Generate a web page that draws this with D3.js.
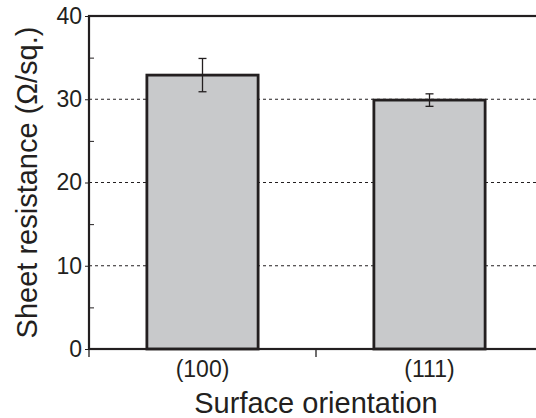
<!DOCTYPE html>
<html>
<head>
<meta charset="utf-8">
<script src="https://cdn.jsdelivr.net/npm/d3@7"></script>
<style>
  body { margin: 0; background: #fff; }
  svg { display: block; font-family: "Liberation Sans", Arial, Helvetica, sans-serif; }
</style>
</head>
<body>
<div id="chart"></div>
<script>
var categories = ["(100)", "(111)"]
var values = [32.9, 29.9]
var errors = [2.0, 0.75]
var majorTicks = [0, 10, 20, 30, 40]
var minorTicks = [5, 15, 25, 35]
var gridTicks = [10, 20, 30]

var ink = "#231f20"

var svg = d3.select("#chart").append("svg")
  .attr("width", 536)
  .attr("height", 418)

var margin = { top: 16, right: -7, bottom: 69, left: 89 },
  width = 536 - margin.left - margin.right,
  height = 418 - margin.top - margin.bottom

var g = svg.append("g")
  .attr("transform", "translate(" + margin.left + "," + margin.top + ")")

var x = d3.scaleBand().domain(categories).range([0, width]).padding(0)
var y = d3.scaleLinear().domain([0, 40]).range([height, 0])

// dashed grid
g.append("g").selectAll("line").data(gridTicks).enter().append("line")
  .attr("x1", 0).attr("x2", width)
  .attr("y1", function (d) { return y(d) })
  .attr("y2", function (d) { return y(d) })
  .attr("stroke", ink)
  .attr("stroke-width", 1)
  .attr("stroke-dasharray", "3,3")

// bars
var barW = x.bandwidth() * 0.49
g.append("g").selectAll("rect").data(values).enter().append("rect")
  .attr("x", function (d, i) { return x(categories[i]) + (x.bandwidth() - barW) / 2 })
  .attr("y", function (d) { return y(d) })
  .attr("width", barW)
  .attr("height", function (d) { return height - y(d) })
  .attr("fill", "#c8c9cb")
  .attr("stroke", ink)
  .attr("stroke-width", 2.8)

// error bars
var eb = g.append("g").attr("stroke", ink).attr("stroke-width", 1.3)
values.forEach(function (d, i) {
  var cx = x(categories[i]) + x.bandwidth() / 2
  eb.append("line").attr("x1", cx).attr("x2", cx)
    .attr("y1", y(d + errors[i])).attr("y2", y(d - errors[i]))
  eb.append("line").attr("x1", cx - 4).attr("x2", cx + 4)
    .attr("y1", y(d + errors[i])).attr("y2", y(d + errors[i]))
  eb.append("line").attr("x1", cx - 4).attr("x2", cx + 4)
    .attr("y1", y(d - errors[i])).attr("y2", y(d - errors[i]))
})

// y axis, major ticks with labels
var yAxis = d3.axisLeft(y).tickValues(majorTicks).tickSizeInner(4).tickSizeOuter(0).tickPadding(3)
var gy = g.append("g").call(yAxis)
gy.select(".domain").remove()
gy.selectAll(".tick line").attr("stroke", ink).attr("stroke-width", 1)
gy.selectAll(".tick text")
  .attr("fill", ink)
  .style("font-size", "23px")

// y axis minor ticks (inside)
var gyMinor = g.append("g").call(d3.axisRight(y).tickValues(minorTicks).tickSize(5).tickFormat(""))
gyMinor.select(".domain").remove()
gyMinor.selectAll(".tick line").attr("stroke", ink).attr("stroke-width", 1)

// x axis: ticks at band boundaries, labels at centers
var bounds = [0, x.bandwidth(), width]
g.append("g").selectAll("line").data(bounds).enter().append("line")
  .attr("x1", function (d) { return d }).attr("x2", function (d) { return d })
  .attr("y1", height).attr("y2", height + 8)
  .attr("stroke", ink).attr("stroke-width", 1.3)

var xAxis = d3.axisBottom(x).tickSize(0).tickPadding(6)
var gx = g.append("g").attr("transform", "translate(0," + height + ")").call(xAxis)
gx.select(".domain").remove()
gx.selectAll(".tick text")
  .attr("fill", ink)
  .attr("dy", "0")
  .attr("y", 28)
  .style("font-size", "23px")

// frame
g.append("rect")
  .attr("x", 0).attr("y", 0)
  .attr("width", width).attr("height", height)
  .attr("fill", "none")
  .attr("stroke", ink)
  .attr("stroke-width", 2.2)

// axis titles
svg.append("text")
  .attr("x", margin.left + x.bandwidth())
  .attr("y", 413)
  .attr("text-anchor", "middle")
  .attr("fill", ink)
  .style("font-size", "29px")
  .text("Surface orientation")

svg.append("text")
  .attr("transform", "translate(37," + (margin.top + height / 2) + ") rotate(-90)")
  .attr("text-anchor", "middle")
  .attr("fill", ink)
  .style("font-size", "29px")
  .text("Sheet resistance (Ω/sq.)")
</script>
</body>
</html>
